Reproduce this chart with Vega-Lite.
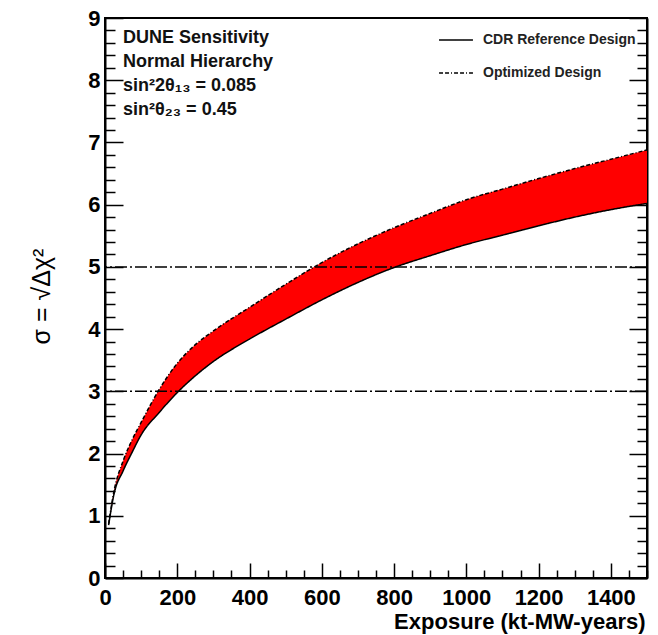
{
  "$schema": "https://vega.github.io/schema/vega-lite/v6.json",
  "width": 542,
  "height": 560,
  "autosize": {"type": "none"},
  "padding": {"left": 105, "top": 18, "right": 11, "bottom": 57},
  "background": "white",
  "config": {
    "view": {"stroke": "black", "strokeWidth": 2},
    "font": "Liberation Sans",
    "axis": {"grid": false}
  },
  "data": {
    "values": [
      {"exposure": 10, "lower": 0.85, "upper": 0.87},
      {"exposure": 25, "lower": 1.35, "upper": 1.40},
      {"exposure": 50, "lower": 1.72, "upper": 1.88},
      {"exposure": 75, "lower": 2.02, "upper": 2.22},
      {"exposure": 100, "lower": 2.30, "upper": 2.50},
      {"exposure": 150, "lower": 2.66, "upper": 3.03},
      {"exposure": 200, "lower": 2.98, "upper": 3.45},
      {"exposure": 250, "lower": 3.25, "upper": 3.75},
      {"exposure": 300, "lower": 3.48, "upper": 3.97},
      {"exposure": 400, "lower": 3.84, "upper": 4.35},
      {"exposure": 500, "lower": 4.16, "upper": 4.72},
      {"exposure": 600, "lower": 4.47, "upper": 5.07},
      {"exposure": 700, "lower": 4.75, "upper": 5.37},
      {"exposure": 800, "lower": 4.99, "upper": 5.63},
      {"exposure": 900, "lower": 5.18, "upper": 5.86},
      {"exposure": 1000, "lower": 5.36, "upper": 6.08},
      {"exposure": 1100, "lower": 5.51, "upper": 6.25},
      {"exposure": 1200, "lower": 5.66, "upper": 6.42},
      {"exposure": 1300, "lower": 5.80, "upper": 6.58},
      {"exposure": 1400, "lower": 5.92, "upper": 6.73},
      {"exposure": 1500, "lower": 6.02, "upper": 6.88}
    ]
  },
  "layer": [
    {
      "layer": [
        {
          "mark": {"type": "area", "color": "#ff0000", "interpolate": "monotone"},
          "encoding": {
            "x": {
              "field": "exposure", "type": "quantitative",
              "scale": {"domain": [0, 1500], "nice": false, "zero": false},
              "axis": {
                "values": [0,50,100,150,200,250,300,350,400,450,500,550,600,650,700,750,800,850,900,950,1000,1050,1100,1150,1200,1250,1300,1350,1400,1450,1500],
                "tickCount": 1000,
                "labelExpr": "datum.value % 200 ? '' : format(datum.value, 'd')",
                "tickSize": {"condition": {"test": "datum.value % 200 === 0", "value": -15}, "value": -8},
                "tickColor": "black", "tickWidth": 1.5,
                "domainColor": "black", "domainWidth": 2,
                "labelFontSize": 22, "labelFontWeight": "bold", "labelColor": "black",
                "labelPadding": 24, "labelOverlap": false, "labelFlush": false,
                "title": "Exposure (kt-MW-years)",
                "titleFontSize": 22, "titleFontWeight": "bold", "titleColor": "black",
                "titleAlign": "right", "titleAnchor": "end", "titleBaseline": "alphabetic",
                "titleX": 540, "titleY": 50
              }
            },
            "y": {
              "field": "lower", "type": "quantitative",
              "scale": {"domain": [0, 9], "nice": false, "zero": false},
              "axis": {
                "values": [0,0.2,0.4,0.6,0.8,1,1.2,1.4,1.6,1.8,2,2.2,2.4,2.6,2.8,3,3.2,3.4,3.6,3.8,4,4.2,4.4,4.6,4.8,5,5.2,5.4,5.6,5.8,6,6.2,6.4,6.6,6.8,7,7.2,7.4,7.6,7.8,8,8.2,8.4,8.6,8.8,9],
                "tickCount": 1000,
                "labelExpr": "datum.value % 1 ? '' : format(datum.value, 'd')",
                "tickSize": {"condition": {"test": "datum.value % 1 === 0", "value": -18}, "value": -10},
                "tickColor": "black", "tickWidth": 1.5,
                "domainColor": "black", "domainWidth": 2,
                "labelFontSize": 22, "labelFontWeight": "bold", "labelColor": "black",
                "labelPadding": 23, "labelOverlap": false, "labelFlush": false,
                "title": "σ = √Δχ²",
                "titleFontSize": 25, "titleFontWeight": "normal", "titleColor": "black",
                "titleAngle": -90, "titleAlign": "center", "titleBaseline": "middle",
                "titleX": -64, "titleY": 278
              }
            },
            "y2": {"field": "upper"}
          }
        },
        {
          "mark": {"type": "line", "color": "black", "strokeWidth": 1.5, "interpolate": "monotone"},
          "encoding": {
            "x": {"field": "exposure", "type": "quantitative"},
            "y": {"field": "lower", "type": "quantitative"},
            "strokeDash": {
              "datum": "CDR Reference Design", "type": "nominal",
              "scale": {"domain": ["CDR Reference Design", "Optimized Design"], "range": [[1, 0], [4, 2, 4, 2, 1, 2]]},
              "legend": {
                "orient": "none", "legendX": 333, "legendY": 4, "title": null,
                "symbolType": "stroke", "symbolSize": 1150, "symbolStrokeWidth": 1.5,
                "symbolStrokeColor": "black", "labelFontSize": 14, "labelFontWeight": "bold",
                "labelColor": "#222222", "rowPadding": 8, "labelOffset": 9, "padding": 0,
                "symbolOffset": 0
              }
            }
          }
        },
        {
          "mark": {"type": "line", "color": "black", "strokeWidth": 1.5, "interpolate": "monotone"},
          "encoding": {
            "x": {"field": "exposure", "type": "quantitative"},
            "y": {"field": "upper", "type": "quantitative"},
            "strokeDash": {"datum": "Optimized Design", "type": "nominal"}
          }
        },
        {
          "data": {"values": [{}]},
          "mark": {
            "type": "text",
            "text": ["DUNE Sensitivity", "Normal Hierarchy", "sin²2θ₁₃ = 0.085", "sin²θ₂₃ = 0.45"],
            "align": "left", "baseline": "alphabetic", "fontSize": 18, "fontWeight": "bold",
            "lineHeight": 24, "color": "#111111"
          },
          "encoding": {
            "x": {"datum": 50, "type": "quantitative"},
            "y": {"datum": 8.6, "type": "quantitative"}
          }
        }
      ]
    },
    {
      "data": {"values": [{"level": 3}, {"level": 5}]},
      "mark": {"type": "rule", "strokeDash": [12, 3, 2, 3], "strokeWidth": 1.5, "color": "black"},
      "encoding": {
        "y": {
          "field": "level", "type": "quantitative",
          "scale": {"domain": [0, 9], "nice": false, "zero": false},
          "axis": {
            "orient": "right",
            "values": [0,0.2,0.4,0.6,0.8,1,1.2,1.4,1.6,1.8,2,2.2,2.4,2.6,2.8,3,3.2,3.4,3.6,3.8,4,4.2,4.4,4.6,4.8,5,5.2,5.4,5.6,5.8,6,6.2,6.4,6.6,6.8,7,7.2,7.4,7.6,7.8,8,8.2,8.4,8.6,8.8,9],
            "tickCount": 1000,
            "labels": false, "title": null,
            "tickSize": {"condition": {"test": "datum.value % 1 === 0", "value": -18}, "value": -10},
            "tickColor": "black", "tickWidth": 1.5,
            "domainColor": "black", "domainWidth": 2
          }
        }
      }
    }
  ],
  "resolve": {"scale": {"y": "independent"}, "axis": {"y": "independent"}}
}
